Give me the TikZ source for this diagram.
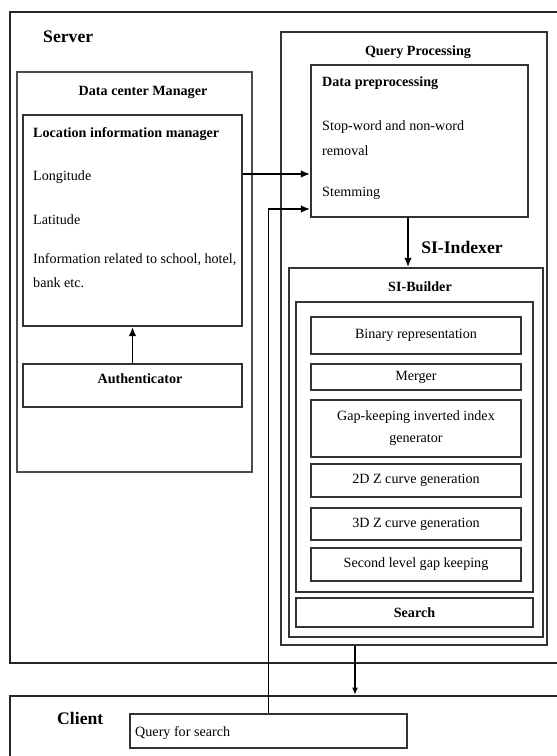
\documentclass[tikz,border=0pt]{standalone}
\usepackage{fontspec}
\setmainfont{Liberation Serif}
\usetikzlibrary{arrows.meta, fit, positioning}

\begin{document}
\begin{tikzpicture}[x=0.85pt, y=-0.85pt,
    every node/.style={font=\fontsize{12}{14}\selectfont},
    frame/.style={draw=black!85, line width=2.3pt, inner sep=0pt},
    box/.style={draw=black!80, line width=1.3pt, inner sep=0pt},
    title/.style={font=\fontsize{12}{14}\selectfont\bfseries},
    big/.style={font=\fontsize{15}{18}\selectfont\bfseries},
    txt/.style={anchor=west, inner sep=0pt},
    link/.style={line width=1.6pt, -{Latex[length=8pt,width=6.5pt]}},
    thinlink/.style={line width=0.9pt, -{Latex[length=6pt,width=5pt]}}]

    \useasboundingbox (0,0) rectangle (557,756);
    \clip (0,0) rectangle (557,756);

    % Server and client frames
    \node[frame, fit={(10,12) (580,663)}] (server) {};
    \node[big, txt] (servertitle) at (43,37) {Server};
    \node[frame, fit={(10,696) (580,790)}] (client) {};
    \node[big, txt] (clienttitle) at (57,718) {Client};

    % Data center manager
    \node[box, draw=black!70, fit={(17,72) (252,472)}] (dcm) {};
    \node[title] (dcmtitle) at (143,92) {Data center Manager};
    \node[box, fit={(23,115) (242,326)}] (lim) {};
    \node[title, txt] (limtitle) at (33,134) {Location information manager};
    \node[txt] (lon) at (33,177) {Longitude};
    \node[txt] (lat) at (33,220) {Latitude};
    \node[txt] (info1) at (33,260) {Information related to school, hotel,};
    \node[txt] (info2) at (33,283) {bank etc.};
    \node[box, fit={(23,364) (242,407)}] (auth) {};
    \node[title] (authtitle) at (140,379) {Authenticator};

    % Query processing
    \node[box, fit={(281,32) (547,645)}] (qp) {};
    \node[title] (qptitle) at (418,52) {Query Processing};
    \node[box, fit={(311,65) (528,217)}] (dp) {};
    \node[title, txt] (dptitle) at (322,83) {Data preprocessing};
    \node[txt] (stop1) at (322,127) {Stop-word and non-word};
    \node[txt] (stop2) at (322,151) {removal};
    \node[txt] (stem) at (322,193) {Stemming};

    % SI-Indexer
    \node[big] (sititle) at (462,247) {SI-Indexer};
    \node[box, fit={(289,268) (543,637)}] (si) {};
    \node[title] (sibtitle) at (420,287) {SI-Builder};
    \node[box, fit={(296,302) (533,592)}] (sib) {};
    \node[box, fit={(311,317) (521,354)}, label=center:{Binary representation}] (binary) {};
    \node[box, fit={(311,364) (521,390)}, label=center:{Merger}] (merger) {};
    \node[box, fit={(311,400) (521,457)}, label={[align=center,
        font=\fontsize{12}{18.5}\selectfont]center:{Gap-keeping inverted index\\generator}}] (gap) {};
    \node[box, fit={(311,464) (521,497)}, label=center:{2D Z curve generation}] (zcurve2) {};
    \node[box, fit={(311,508) (521,540)}, label=center:{3D Z curve generation}] (zcurve3) {};
    \node[box, fit={(311,548) (521,581)}, label=center:{Second level gap keeping}] (second) {};
    \node[box, fit={(296,598) (533,627)}, label={[title]center:Search}] (search) {};

    % Client query
    \node[box, fit={(130,714) (407,748)}] (query) {};
    \node[txt] (querytext) at (135,733) {Query for search};

    % Connectors
    \draw[link] (auth.north) -- (lim.south);
    \draw[link] (lim.east |- 0,174) -- (dp.west |- 0,174);
    \draw[link] (query.north) |- (dp.west |- 0,209);
    \draw[link] (dp.south -| 408,0) -- (si.north -| 408,0);
    \draw[thinlink] (qp.south -| 355,0) -- (client.north -| 355,0);

\end{tikzpicture}
\end{document}
